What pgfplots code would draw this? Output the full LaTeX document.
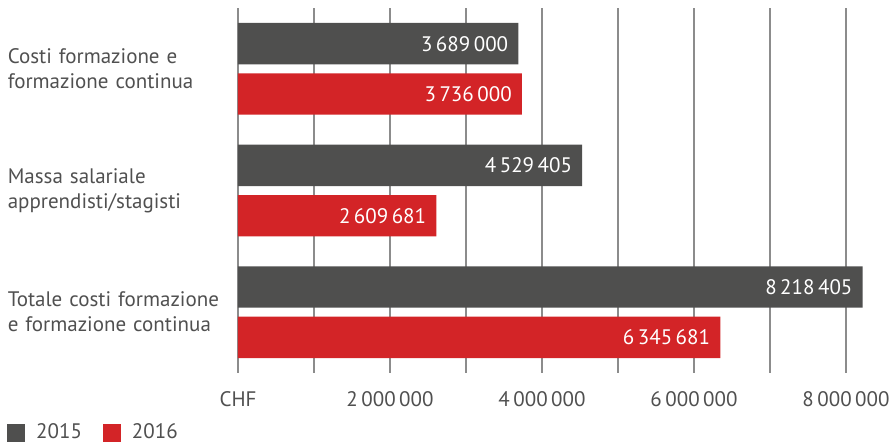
\documentclass[border=0pt]{standalone}
\usepackage{fontspec}
\setmainfont{PT Sans}
\usepackage{pgfplots}
\pgfplotsset{compat=1.18}
\definecolor{bargray}{HTML}{4F4F4E}
\definecolor{barred}{HTML}{D32427}
\definecolor{txtgray}{HTML}{505050}
\definecolor{gridgray}{HTML}{8C8C8C}
\newcommand{\chartfont}{\fontsize{21bp}{25bp}\selectfont}

\begin{document}
\chartfont
\begin{tikzpicture}
\useasboundingbox (-238bp,8bp) rectangle (653bp,-435bp);
\begin{axis}[
  at={(0,0)}, anchor=north west,
  scale only axis, width=646bp, height=365bp,
  xbar, bar width=0.34,
  xmin=0, xmax=8500000,
  ymin=-0.5, ymax=2.5, y dir=reverse,
  axis line style={draw=none},
  major tick length=0pt,
  xmajorgrids, grid style={gridgray, line width=1.5bp},
  xtick={0,1000000,2000000,3000000,4000000,5000000,6000000,7000000,8000000},
  xticklabels={CHF,,2\,000\,000,,4\,000\,000,,6\,000\,000,,8\,000\,000},
  scaled x ticks=false,
  xticklabel style={anchor=north, inner sep=0pt, yshift=-18bp},
  ytick={0,1,2},
  yticklabels={{Costi formazione e\\formazione continua},
               {Massa salariale\\apprendisti/stagisti},
               {Totale costi formazione\\e formazione continua}},
  yticklabel style={text width=222bp, align=left, anchor=east, inner sep=0pt, xshift=-8bp},
  tick label style={font=\chartfont, text=txtgray},
  point meta=explicit symbolic,
  nodes near coords,
  every node near coord/.append style={anchor=east, text=white, inner sep=0pt, xshift=-10bp, font=\chartfont},
  legend style={at={(axis description cs:-0.3576,-0.164)}, anchor=west, draw=none,
    inner sep=0pt, font=\chartfont, text=txtgray,
    /tikz/every odd column/.append style={column sep=9bp},
    /tikz/every even column/.append style={column sep=19bp}},
  legend columns=-1,
  legend image code/.code={\fill[#1] (0bp,-9bp) rectangle (18bp,9bp);},
]
\addplot[fill=bargray, draw=none, bar shift=-0.207] coordinates {
  (3689000,0) [3\,689\,000]
  (4529405,1) [4\,529\,405]
  (8218405,2) [8\,218\,405]
};
\addplot[fill=barred, draw=none, bar shift=0.207] coordinates {
  (3736000,0) [3\,736\,000]
  (2609681,1) [2\,609\,681]
  (6345681,2) [6\,345\,681]
};
\legend{2015,2016}
\end{axis}
\end{tikzpicture}
\end{document}
